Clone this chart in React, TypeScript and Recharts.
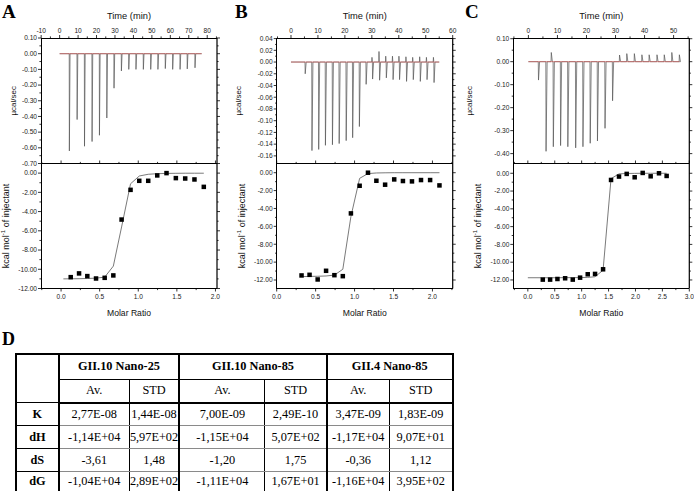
import React from 'react';
import { ComposedChart, Line, Scatter, XAxis, YAxis } from 'recharts';

const W = 694;
const H = 491;
const TOP = 38;
const MID = 163.5;
const BOT = 288.5;
const SANS = 'Arial, "Liberation Sans", sans-serif';
const SERIF = '"Times New Roman", "Liberation Serif", serif';
const AXIS = { stroke: '#000', strokeWidth: 1, shapeRendering: 'crispEdges' };

// ---------- panel A ----------
const injTimeA = [5.2, 9.4, 13.4, 17.5, 21.5, 25.5, 29.4, 33.4, 37.4, 41.3, 45.3, 49.3, 53.2, 57.2, 61.2, 65.2, 69.1, 73.3];
const injPeakA = [-0.62, -0.42, -0.59, -0.56, -0.52, -0.41, -0.22, -0.11, -0.1, -0.1, -0.1, -0.1, -0.1, -0.095, -0.1, -0.1, -0.097, -0.09];
const ratioA = [0.125, 0.233, 0.34, 0.453, 0.565, 0.677, 0.784, 0.9, 1.013, 1.129, 1.246, 1.366, 1.487, 1.608, 1.728, 1.849];
const heatA = [-10.82, -10.43, -10.71, -10.96, -10.89, -10.64, -4.83, -1.74, -0.8, -0.8, -0.24, 0.0, -0.52, -0.56, -0.66, -1.43];
const fitRatioA = [0.03, 0.125, 0.233, 0.34, 0.453, 0.565, 0.677, 0.784, 0.9, 1.013, 1.129, 1.246, 1.366, 1.487, 1.608, 1.728, 1.849];
const fitHeatA = [-11.0, -10.99, -10.98, -10.96, -10.92, -10.82, -9.67, -5.6, -1.11, -0.3, -0.12, -0.06, -0.03, -0.02, -0.01, -0.01, -0.01];
const timeTicksA = [-10, -5, 0, 5, 10, 15, 20, 25, 30, 35, 40, 45, 50, 55, 60, 65, 70, 75, 80, 85];
const timeMajorsA = [-10, 0, 10, 20, 30, 40, 50, 60, 70, 80];
const rawTicksA = [0.1, 0.05, 0, -0.05, -0.1, -0.15, -0.2, -0.25, -0.3, -0.35, -0.4, -0.45, -0.5, -0.55, -0.6, -0.65, -0.7];
const rawMajorsA = [0.1, 0, -0.1, -0.2, -0.3, -0.4, -0.5, -0.6, -0.7];
const molarTicksA = [-0.25, 0, 0.25, 0.5, 0.75, 1, 1.25, 1.5, 1.75, 2];

// ---------- panel B ----------
const injTimeB = [5.2, 7.7, 10.2, 12.7, 15.3, 17.8, 20.4, 22.8, 25.3, 27.8, 30.2, 32.8, 35.3, 37.8, 40.2, 42.8, 45.3, 47.9, 50.4, 53.0];
const injPeakB = [-0.02, -0.151, -0.149, -0.142, -0.141, -0.139, -0.134, -0.129, -0.11, -0.038, -0.029, -0.031, -0.027, -0.03, -0.03, -0.033, -0.03, -0.033, -0.03, -0.035];
const injUpB = [0, 0, 0, 0, 0, 0, 0, 0, 0, 0, 0.008, 0.018, 0.01, 0.01, 0.01, 0.009, 0.008, 0.009, 0.008, 0.008];
const ratioB = [0.319, 0.422, 0.526, 0.634, 0.741, 0.849, 0.953, 1.065, 1.172, 1.28, 1.392, 1.509, 1.621, 1.737, 1.853, 1.97, 2.09];
const heatB = [-11.49, -11.42, -11.94, -10.97, -11.46, -11.57, -4.55, -1.46, 0.0, -0.9, -1.34, -0.75, -0.93, -0.97, -0.82, -0.82, -1.42];
const fitRatioB = [0.319, 0.422, 0.526, 0.634, 0.741, 0.849, 0.953, 1.065, 1.172, 1.28, 1.392, 1.509, 1.621, 1.737, 1.853, 1.97, 2.09];
const fitHeatB = [-11.62, -11.6, -11.58, -11.55, -11.45, -10.8, -4.9, -0.63, -0.1, -0.03, -0.01, 0, 0, 0, 0, 0, 0];
const timeTicksB = [-5, 0, 5, 10, 15, 20, 25, 30, 35, 40, 45, 50, 55, 60];
const timeMajorsB = [0, 10, 20, 30, 40, 50, 60];
const rawTicksB = [0.04, 0.03, 0.02, 0.01, 0, -0.01, -0.02, -0.03, -0.04, -0.05, -0.06, -0.07, -0.08, -0.09, -0.1, -0.11, -0.12, -0.13, -0.14, -0.15, -0.16];
const rawMajorsB = [0.04, 0.02, 0, -0.02, -0.04, -0.06, -0.08, -0.1, -0.12, -0.14, -0.16];
const molarTicksB = [0, 0.25, 0.5, 0.75, 1, 1.25, 1.5, 1.75, 2, 2.25];

// ---------- panel C ----------
const injTimeC = [3.4, 6.0, 7.8, 8.5, 11.0, 13.5, 16.2, 18.7, 21.2, 23.7, 26.3, 28.9, 31.3, 33.8, 36.4, 39.0, 41.5, 44.2, 46.7, 49.3, 51.9];
const injPeakC = [-0.08, -0.39, 0.04, -0.37, -0.365, -0.37, -0.375, -0.37, -0.355, -0.345, -0.29, -0.17, 0.029, 0.035, 0.035, 0.03, 0.03, 0.03, 0.03, 0.04, 0.03];
const ratioC = [0.278, 0.414, 0.55, 0.693, 0.835, 0.971, 1.113, 1.249, 1.398, 1.546, 1.694, 1.837, 1.985, 2.134, 2.282, 2.437, 2.579];
const heatC = [-11.96, -11.96, -11.89, -11.81, -11.96, -11.74, -11.36, -11.32, -10.8, -0.75, -0.37, -0.07, -0.45, 0.04, -0.34, 0.0, -0.3];
const fitRatioC = [0.0, 0.278, 0.414, 0.55, 0.693, 0.835, 0.971, 1.113, 1.249, 1.398, 1.546, 1.694, 1.837, 1.985, 2.134, 2.282, 2.437, 2.579];
const fitHeatC = [-11.75, -11.75, -11.75, -11.75, -11.74, -11.74, -11.73, -11.71, -11.64, -10.9, -0.6, -0.07, -0.02, -0.01, 0, 0, 0, 0];
const timeTicksC = [-5, 0, 5, 10, 15, 20, 25, 30, 35, 40, 45, 50, 55];
const timeMajorsC = [0, 10, 20, 30, 40, 50];
const rawTicksC = [0.1, 0.05, 0, -0.05, -0.1, -0.15, -0.2, -0.25, -0.3, -0.35, -0.4];
const rawMajorsC = [0.1, 0, -0.1, -0.2, -0.3, -0.4];
const molarTicksC = [-0.25, 0, 0.25, 0.5, 0.75, 1, 1.25, 1.5, 1.75, 2, 2.25, 2.5, 2.75, 3];

const molarMajors = [0, 0.5, 1, 1.5, 2, 2.5, 3];
const heatTicks = [0, -1, -2, -3, -4, -5, -6, -7, -8, -9, -10, -11, -12];
const heatMajors = [0, -2, -4, -6, -8, -10, -12];

// ---------- table D ----------
const groups = ['GII.10 Nano-25', 'GII.10 Nano-85', 'GII.4 Nano-85'];
const subHeads = ['Av.', 'STD'];
const rowNames = ['K', 'dH', 'dS', 'dG'];
const rowK = ['2,77E-08', '1,44E-08', '7,00E-09', '2,49E-10', '3,47E-09', '1,83E-09'];
const rowDH = ['-1,14E+04', '5,97E+02', '-1,15E+04', '5,07E+02', '-1,17E+04', '9,07E+01'];
const rowDS = ['-3,61', '1,48', '-1,20', '1,75', '-0,36', '1,12'];
const rowDG = ['-1,04E+04', '2,89E+02', '-1,11E+04', '1,67E+01', '-1,16E+04', '3,95E+02'];
const colWidths = [42.7, 70.6, 50, 85.7, 61.7, 62.6, 63.4];

type Side = 'top' | 'bottom' | 'left';

const isMajor = (majors: number[], v: number) => majors.some((m) => Math.abs(m - v) < 1e-6);

// tick renderer; for the left axis it also puts the matching outward tick on the right border (rightX)
function makeTick(side: Side, majors: number[], dec: number, showLabel = true, rightX?: number) {
  return (props: any) => {
    const { x, y, payload } = props;
    const v = Number(payload.value);
    const major = isMajor(majors, v);
    const len = major ? 3 : 1.6;
    const txt = (Math.abs(v) < 1e-9 ? 0 : v).toFixed(dec);
    let x2 = x, y2 = y, tx = x, ty = y;
    let anchor: 'middle' | 'end' = 'middle';
    if (side === 'top') { y2 = y - len; ty = y - 4.6; }
    else if (side === 'bottom') { y2 = y + len; ty = y + 10.5; }
    else { x2 = x - len; tx = x - 4; ty = y + 2.3; anchor = 'end'; }
    return (
      <g>
        <line x1={x} y1={y} x2={x2} y2={y2} stroke="#000" strokeWidth={0.8} />
        {rightX !== undefined && (
          <line x1={rightX} y1={y} x2={rightX + len} y2={y} stroke="#000" strokeWidth={0.8} />
        )}
        {showLabel && major && (
          <text x={tx} y={ty} textAnchor={anchor} fontSize={6.6} fill="#222" fontFamily={SANS}>{txt}</text>
        )}
      </g>
    );
  };
}

type Panel = {
  left: number; right: number;
  timeDomain: [number, number]; timeTicks: number[]; timeMajors: number[];
  rawDomain: [number, number]; rawTicks: number[]; rawMajors: number[];
  molarDomain: [number, number]; molarTicks: number[];
  heatDomain: [number, number];
  run: [number, number]; times: number[]; peaks: number[]; ups?: number[];
  ratio: number[]; heat: number[]; fitRatio: number[]; fitHeat: number[];
  ucalGap: number;
};

const panels: Panel[] = [
  {
    left: 41, right: 217,
    timeDomain: [-10.1, 85.3], timeTicks: timeTicksA, timeMajors: timeMajorsA,
    rawDomain: [-0.7, 0.1], rawTicks: rawTicksA, rawMajors: rawMajorsA,
    molarDomain: [-0.26, 2.02], molarTicks: molarTicksA, heatDomain: [-12, 1.0],
    run: [0, 77], times: injTimeA, peaks: injPeakA,
    ratio: ratioA, heat: heatA, fitRatio: fitRatioA, fitHeat: fitHeatA, ucalGap: 28,
  },
  {
    left: 276.7, right: 452.7,
    timeDomain: [-5.3, 60], timeTicks: timeTicksB, timeMajors: timeMajorsB,
    rawDomain: [-0.173, 0.041], rawTicks: rawTicksB, rawMajors: rawMajorsB,
    molarDomain: [0, 2.26], molarTicks: molarTicksB, heatDomain: [-12.95, 1.03],
    run: [0, 55], times: injTimeB, peaks: injPeakB, ups: injUpB,
    ratio: ratioB, heat: heatB, fitRatio: fitRatioB, fitHeat: fitHeatB, ucalGap: 38.5,
  },
  {
    left: 513.3, right: 689.3,
    timeDomain: [-5.2, 55.4], timeTicks: timeTicksC, timeMajors: timeMajorsC,
    rawDomain: [-0.443, 0.103], rawTicks: rawTicksC, rawMajors: rawMajorsC,
    molarDomain: [-0.27, 3.0], molarTicks: molarTicksC, heatDomain: [-12.96, 1.1],
    run: [0, 52], times: injTimeC, peaks: injPeakC,
    ratio: ratioC, heat: heatC, fitRatio: fitRatioC, fitHeat: fitHeatC, ucalGap: 44,
  },
];

// raw thermogram: baseline with a sharp peak at each injection
function buildTrace(p: Panel) {
  const pts = [{ t: p.run[0], v: 0 }];
  p.times.forEach((t, i) => {
    const up = p.ups ? p.ups[i] : 0;
    if (up) pts.push({ t: t - 0.25, v: 0 }, { t: t - 0.15, v: up });
    pts.push({ t, v: 0 }, { t: t + 0.08, v: p.peaks[i] }, { t: t + 0.45, v: 0 });
  });
  pts.push({ t: p.run[1], v: 0 });
  return pts;
}

const layer: React.CSSProperties = { position: 'absolute', left: 0, top: 0 };

const timeLabel = (props: any) => {
  const vb = props.viewBox;
  return (
    <text x={vb.x + vb.width / 2} y={vb.y + vb.height - 19} textAnchor="middle" fontSize={9.3} fontFamily={SANS} fill="#111">
      Time (min)
    </text>
  );
};

const ucalLabel = (gap: number) => (props: any) => {
  const vb = props.viewBox;
  const cx = vb.x + vb.width - gap;
  const cy = vb.y + vb.height / 2;
  return (
    <text x={cx} y={cy} transform={`rotate(-90 ${cx} ${cy})`} textAnchor="middle" dominantBaseline="central" fontSize={8} fontFamily={SANS} fill="#111">
      µcal/sec
    </text>
  );
};

const kcalLabel = (props: any) => {
  const vb = props.viewBox;
  const cx = vb.x + vb.width - 35;
  const cy = vb.y + vb.height / 2;
  return (
    <text x={cx} y={cy} transform={`rotate(-90 ${cx} ${cy})`} textAnchor="middle" dominantBaseline="central" fontSize={9} fontFamily={SANS} fill="#111">
      kcal mol<tspan dy={-3} fontSize={6}>-1</tspan><tspan dy={3}> of injectant</tspan>
    </text>
  );
};

const molarLabel = (props: any) => {
  const vb = props.viewBox;
  return (
    <text x={vb.x + vb.width / 2} y={vb.y + 27} textAnchor="middle" fontSize={8.6} fontFamily={SANS} fill="#111">
      Molar Ratio
    </text>
  );
};

const square = (props: any) => (
  <rect x={props.cx - 2.25} y={props.cy - 2.25} width={4.5} height={4.5} fill="#000" />
);

function RawChart({ p }: { p: Panel }) {
  const trace = buildTrace(p);
  const base = [{ t: p.run[0], v: 0 }, { t: p.run[1], v: 0 }];
  return (
    <div style={layer}>
      <ComposedChart width={W} height={H} margin={{ top: TOP - 24, bottom: H - MID, left: p.left - 40, right: W - p.right }}>
        <XAxis xAxisId="t" orientation="top" type="number" dataKey="t" height={24} domain={p.timeDomain}
          ticks={p.timeTicks} interval={0} allowDataOverflow tickSize={0} tickMargin={0} tickLine={false}
          tick={makeTick('top', p.timeMajors, 0)} axisLine={AXIS} label={timeLabel} />
        <YAxis yAxisId="v" type="number" dataKey="v" width={40} domain={p.rawDomain} ticks={p.rawTicks}
          interval={0} allowDataOverflow tickSize={0} tickMargin={0} tickLine={false}
          tick={makeTick('left', p.rawMajors, 2, true, p.right)} axisLine={AXIS} label={ucalLabel(p.ucalGap)} />
        <Line xAxisId="t" yAxisId="v" data={trace} dataKey="v" type="linear" stroke="#555" strokeWidth={0.7}
          dot={false} activeDot={false} isAnimationActive={false} />
        <Line xAxisId="t" yAxisId="v" data={base} dataKey="v" type="linear" stroke="#d9534f" strokeWidth={0.6}
          dot={false} activeDot={false} isAnimationActive={false} />
      </ComposedChart>
    </div>
  );
}

function HeatChart({ p }: { p: Panel }) {
  const pts = p.ratio.map((x, i) => ({ x, y: p.heat[i] }));
  const fit = p.fitRatio.map((x, i) => ({ x, y: p.fitHeat[i] }));
  return (
    <div style={layer}>
      <ComposedChart width={W} height={H} margin={{ top: MID - 1, bottom: H - BOT - 30, left: p.left - 40, right: W - p.right }}>
        <XAxis xAxisId="m" orientation="bottom" type="number" dataKey="x" height={30} domain={p.molarDomain}
          ticks={p.molarTicks} interval={0} allowDataOverflow tickSize={0} tickMargin={0} tickLine={false}
          tick={makeTick('bottom', molarMajors, 1)} axisLine={AXIS} label={molarLabel} />
        <XAxis xAxisId="mt" orientation="top" type="number" dataKey="x" height={1} domain={p.molarDomain}
          ticks={p.molarTicks} interval={0} allowDataOverflow tickSize={0} tickMargin={0} tickLine={false}
          tick={makeTick('top', molarMajors, 1, false)} axisLine={AXIS} />
        <YAxis yAxisId="h" type="number" dataKey="y" width={40} domain={p.heatDomain} ticks={heatTicks}
          interval={0} allowDataOverflow tickSize={0} tickMargin={0} tickLine={false}
          tick={makeTick('left', heatMajors, 2, true, p.right)} axisLine={AXIS} label={kcalLabel} />
        <Line xAxisId="mt" yAxisId="h" data={fit} dataKey="y" type="linear" stroke="#6b6b6b" strokeWidth={0.9}
          dot={false} activeDot={false} isAnimationActive={false} />
        <Scatter xAxisId="m" yAxisId="h" data={pts} dataKey="y" shape={square} isAnimationActive={false} />
      </ComposedChart>
    </div>
  );
}

function ResultsTable() {
  const rows = [rowK, rowDH, rowDS, rowDG];
  const cell = (extra: React.CSSProperties = {}): React.CSSProperties => ({
    border: '1px solid #000', padding: 0, textAlign: 'center', verticalAlign: 'middle', ...extra,
  });
  const groupEdge = '2px solid #000';
  return (
    <table style={{
      position: 'absolute', left: 15, top: 352.5, width: 437, borderCollapse: 'collapse', tableLayout: 'fixed',
      fontFamily: SERIF, fontSize: 12.3, color: '#000', border: groupEdge,
    }}>
      <colgroup>
        {colWidths.map((w, i) => <col key={i} style={{ width: w }} />)}
      </colgroup>
      <tbody>
        <tr style={{ height: 26 }}>
          <td rowSpan={2} style={cell({ borderRight: groupEdge })} />
          {groups.map((g) => (
            <td key={g} colSpan={2} style={cell({ fontWeight: 'bold', borderLeft: groupEdge, borderRight: groupEdge })}>{g}</td>
          ))}
        </tr>
        <tr style={{ height: 23 }}>
          {groups.map((g) => subHeads.map((s, j) => (
            <td key={g + s} style={cell({ borderLeft: j === 0 ? groupEdge : '1px solid #000', borderBottom: groupEdge })}>{s}</td>
          )))}
        </tr>
        {rows.map((vals, r) => (
          <tr key={rowNames[r]} style={{ height: r === 3 ? 20.5 : 23 }}>
            <td style={cell({ fontWeight: 'bold', borderRight: groupEdge, borderBottom: r === 3 ? groupEdge : '1px solid #000' })}>{rowNames[r]}</td>
            {vals.map((v, i) => (
              <td key={i} style={cell({
                borderLeft: i % 2 === 0 ? groupEdge : '1px solid #000',
                borderBottom: r === 3 ? groupEdge : '1px solid #8a8a8a',
              })}>{v}</td>
            ))}
          </tr>
        ))}
      </tbody>
    </table>
  );
}

export default function App() {
  return (
    <div style={{ position: 'absolute', left: 0, top: 0, width: W, height: H, background: '#fff', overflow: 'hidden', fontFamily: SANS }}>
      {panels.map((p, i) => <RawChart key={'r' + i} p={p} />)}
      {panels.map((p, i) => <HeatChart key={'h' + i} p={p} />)}
      <svg width={W} height={H} style={{ ...layer, zIndex: 5 }}>
        {/* right border of each plot frame */}
        {panels.map((p, i) => (
          <rect key={i} x={p.right - 0.6} y={TOP} width={1.2} height={BOT - TOP} fill="#000" />
        ))}
        <g fontFamily={SERIF} fontWeight="bold" fill="#000">
          <text x={2} y={18} fontSize={19}>A</text>
          <text x={235} y={18} fontSize={19}>B</text>
          <text x={465} y={18} fontSize={19}>C</text>
          <text x={2} y={345} fontSize={18}>D</text>
        </g>
      </svg>
      <ResultsTable />
    </div>
  );
}
